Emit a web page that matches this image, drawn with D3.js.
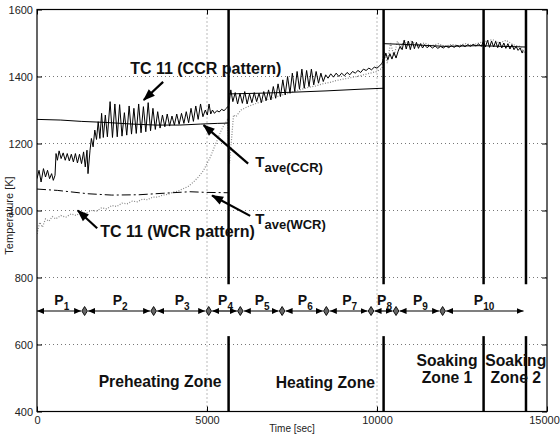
<!DOCTYPE html>
<html>
<head>
<meta charset="utf-8">
<script src="https://cdn.jsdelivr.net/npm/d3@7"></script>
<style>
  body { margin: 0; background: #fff; }
  text { font-family: "Liberation Sans", Arial, sans-serif; }
</style>
</head>
<body>
<div id="chart"></div>
<script>
// ---- data: [time (s), temperature (K)] ----
const tc11CCR = [
  [0,1095],[60,1120],[120,1085],[190,1125],[250,1100],[310,1120],[370,1095],[430,1110],[480,1090],[530,1105],
  [560,1170],[600,1150],[650,1178],[710,1155],[770,1172],[830,1150],[890,1170],[950,1148],[1010,1168],[1070,1145],
  [1130,1170],[1190,1142],[1250,1168],[1310,1140],[1370,1175],[1420,1130],[1470,1180],[1500,1110],[1560,1180],
  [1600,1215],[1650,1190],[1700,1240],[1750,1212],[1800,1265],[1850,1215],[1900,1290],[1950,1218],[2010,1285],
  [2070,1220],[2150,1325],[2220,1218],[2290,1318],[2360,1220],[2430,1316],[2500,1222],[2570,1292],[2640,1225],
  [2710,1312],[2780,1228],[2850,1305],[2920,1230],[2990,1318],[3060,1232],[3130,1310],[3200,1235],[3270,1322],
  [3340,1238],[3410,1305],[3480,1242],[3550,1295],[3620,1246],[3690,1285],[3760,1250],[3830,1288],[3900,1252],
  [3970,1282],[4040,1255],[4110,1288],[4180,1257],[4250,1290],[4320,1260],[4390,1295],[4460,1262],[4530,1305],
  [4600,1266],[4670,1312],[4740,1272],[4810,1318],[4880,1280],[4950,1300],[5010,1285],[5060,1318],[5110,1288],
  [5160,1300],[5220,1290],[5290,1298],[5360,1294],[5430,1302],[5500,1298],[5580,1306],[5630,1312],
  [5650,1320],[5700,1360],[5760,1325],[5830,1352],[5900,1318],[5970,1350],[6040,1320],[6110,1355],[6180,1318],
  [6250,1348],[6320,1322],[6390,1352],[6460,1325],[6530,1350],[6600,1322],[6670,1355],[6740,1328],[6810,1360],
  [6880,1330],[6950,1370],[7020,1335],[7090,1378],[7160,1340],[7230,1390],[7300,1345],[7370,1400],[7440,1350],
  [7510,1410],[7580,1355],[7650,1415],[7720,1362],[7790,1422],[7860,1365],[7930,1418],[8000,1370],[8070,1422],
  [8140,1375],[8210,1415],[8280,1380],[8350,1410],[8420,1385],[8490,1405],[8560,1395],[8640,1408],[8720,1398],
  [8800,1410],[8880,1400],[8960,1410],[9040,1402],[9120,1412],[9200,1405],[9280,1415],[9360,1410],[9440,1418],
  [9520,1412],[9600,1422],[9680,1418],[9760,1425],[9840,1420],[9920,1428],[10000,1425],[10080,1432],[10150,1440],
  [10190,1452],[10220,1455],[10260,1470],[10320,1450],[10380,1468],[10440,1452],[10500,1472],[10560,1455],
  [10620,1475],[10680,1490],[10740,1480],[10800,1508],[10860,1482],[10920,1506],[10980,1480],[11040,1505],
  [11100,1483],[11160,1502],[11220,1484],[11280,1498],[11340,1485],[11400,1495],[11470,1486],[11550,1492],
  [11630,1485],[11710,1491],[11790,1484],[11870,1490],[11950,1485],[12030,1491],[12110,1486],[12190,1492],
  [12270,1487],[12350,1493],[12430,1488],[12510,1494],[12590,1489],[12670,1495],[12750,1490],[12830,1496],
  [12910,1491],[12990,1497],[13070,1490],[13130,1505],[13190,1488],[13250,1508],[13310,1487],[13370,1506],
  [13430,1488],[13490,1505],[13550,1486],[13610,1503],[13670,1485],[13730,1500],[13790,1484],[13850,1498],
  [13910,1482],[13970,1495],[14030,1480],[14090,1490],[14150,1478],[14210,1485],[14270,1470],[14300,1478]
];

const tc11WCR = [
  [0,930],[80,965],[160,950],[250,975],[350,968],[450,982],[550,975],[700,985],[850,980],[1000,990],
  [1150,985],[1300,995],[1450,992],[1600,1000],[1750,998],[1900,1008],[2050,1005],[2200,1015],[2350,1012],
  [2500,1022],[2650,1020],[2800,1028],[2950,1026],[3100,1034],[3250,1032],[3400,1040],[3550,1040],[3700,1046],
  [3850,1048],[4000,1055],[4150,1058],[4300,1065],[4450,1072],[4600,1085],[4750,1100],[4900,1120],[5000,1140],
  [5100,1160],[5200,1185],[5300,1210],[5400,1235],[5500,1255],[5600,1270],[5660,1140],[5720,1210],[5780,1285],
  [5850,1280],[6000,1300],[6200,1310],[6400,1318],[6600,1325],[6800,1332],[7000,1338],[7200,1345],[7400,1350],
  [7600,1357],[7800,1362],[8000,1368],[8200,1372],[8400,1378],[8600,1382],[8800,1388],[9000,1392],[9200,1396],
  [9400,1400],[9600,1405],[9800,1410],[10000,1415],[10150,1425],[10200,1480],[10300,1440],[10400,1500],
  [10500,1460],[10600,1505],[10700,1485],[10800,1510],[10900,1490],[11000,1505],[11200,1495],[11400,1500],
  [11600,1492],[11800,1498],[12000,1490],[12200,1496],[12400,1492],[12600,1498],[12800,1494],[13000,1500],
  [13200,1505],[13400,1510],[13600,1500],[13800,1508],[14000,1495],[14200,1490],[14350,1470]
];

const taveCCR = [
  [[0,1272],[700,1270],[1300,1266],[2000,1263],[2800,1258],[3500,1255],[4200,1255],[4800,1258],[5300,1260],[5630,1261]],
  [[5640,1348],[6500,1350],[7500,1353],[8500,1357],[9500,1362],[10190,1365]],
  [[10200,1498],[11000,1495],[12000,1490],[13000,1492],[14380,1488]]
];

const taveWCR = [[0,1064],[600,1060],[1500,1050],[2200,1046],[3000,1047],[3800,1052],[4500,1056],[5000,1054],[5630,1053]];

const zoneLines = [5635, 10194, 13135, 14382];
const zoneLineSpans = [[780, 1600], [400, 625]];

const phaseBounds = [0, 1400, 3430, 5050, 5980, 7210, 8510, 9825, 10560, 11930, 14310];
const phaseNames = ["1","2","3","4","5","6","7","8","9","10"];
const phaseLevel = 700;

const zoneLabels = [
  { lines: ["Preheating Zone"], t: 3620, T: 473 },
  { lines: ["Heating Zone"], t: 8480, T: 470 },
  { lines: ["Soaking", "Zone 1"], t: 12060, T: 494 },
  { lines: ["Soaking", "Zone 2"], t: 14080, T: 494 }
];

// annotation text + arrows (tail -> head), in data coordinates
const notes = [
  { main: "TC 11 (CCR pattern)", sub: "", t: 2740, T: 1406 },
  { main: "TC 11 (WCR pattern)", sub: "", t: 1860, T: 920 },
  { main: "T", sub: "ave(CCR)", t: 6420, T: 1130 },
  { main: "T", sub: "ave(WCR)", t: 6420, T: 959 }
];
const noteArrows = [
  [[3710, 1384], [3140, 1330]],
  [[6210, 1140], [4900, 1255]],
  [[6270, 984], [5150, 1045]],
  [[1770, 947], [1200, 1000]]
];

const yTicks = [400, 600, 800, 1000, 1200, 1400, 1600];
const xTicks = [0, 5000, 10000, 15000];

// ---- layout ----
const margin = { top: 9.5, left: 37 };
const width = 510, height = 402;

const svg = d3.select("#chart").append("svg")
  .attr("width", 560).attr("height", 436);

const defs = svg.append("defs");
defs.append("marker").attr("id", "tri")
  .attr("viewBox", "0 -4 8 8").attr("refX", 8).attr("refY", 0)
  .attr("markerWidth", 7).attr("markerHeight", 7)
  .attr("markerUnits", "userSpaceOnUse").attr("orient", "auto-start-reverse")
  .append("path").attr("d", "M0,-3.5L8,0L0,3.5Z").attr("fill", "#000");
defs.append("marker").attr("id", "bigArrow")
  .attr("viewBox", "0 -5 12 10").attr("refX", 11).attr("refY", 0)
  .attr("markerWidth", 13).attr("markerHeight", 10)
  .attr("markerUnits", "userSpaceOnUse").attr("orient", "auto")
  .append("path").attr("d", "M0,-4.5L12,0L0,4.5Z").attr("fill", "#000");
defs.append("clipPath").attr("id", "plotClip")
  .append("rect").attr("width", width).attr("height", height);

const g = svg.append("g").attr("transform", `translate(${margin.left},${margin.top})`);

const x = d3.scaleLinear().domain([0, 15000]).range([0, width]);
const y = d3.scaleLinear().domain([400, 1600]).range([height, 0]);

// grid
g.selectAll("line.gy").data(yTicks.slice(1, -1)).enter().append("line")
  .attr("x1", 0).attr("x2", width).attr("y1", d => y(d)).attr("y2", d => y(d))
  .attr("stroke", "#777").attr("stroke-width", 1).attr("stroke-dasharray", "1,3");
g.selectAll("line.gx").data(xTicks.slice(1, -1)).enter().append("line")
  .attr("y1", 0).attr("y2", height).attr("x1", d => x(d)).attr("x2", d => x(d))
  .attr("stroke", "#777").attr("stroke-width", 1).attr("stroke-dasharray", "1,3");

// axes (ticks pointing inwards)
const axL = g.append("g").call(d3.axisLeft(y).tickValues(yTicks).tickFormat(d3.format("d"))
  .tickSizeInner(-5).tickSizeOuter(0).tickPadding(4));
const axB = g.append("g").attr("transform", `translate(0,${height})`)
  .call(d3.axisBottom(x).tickValues(xTicks).tickFormat(d3.format("d"))
  .tickSizeInner(-5).tickSizeOuter(0).tickPadding(5));
const axR = g.append("g").attr("transform", `translate(${width},0)`)
  .call(d3.axisRight(y).tickValues(yTicks).tickSizeInner(-5).tickSizeOuter(0).tickFormat(""));
const axT = g.append("g")
  .call(d3.axisTop(x).tickValues(xTicks).tickSizeInner(-5).tickSizeOuter(0).tickFormat(""));
[axL, axB, axR, axT].forEach(a => {
  a.select(".domain").remove();
  a.selectAll("text").attr("font-size", 11).attr("fill", "#222")
    .style("font-family", "'Liberation Sans', Arial, sans-serif");
});
// last x label sits at the window edge; nudge it in so it stays readable
axB.selectAll(".tick text").filter(d => d === 15000).attr("dx", -3);

// curves
const line = d3.line().x(d => x(d[0])).y(d => y(d[1]));
const plot = g.append("g").attr("clip-path", "url(#plotClip)");

plot.append("path").datum(tc11WCR).attr("d", line)
  .attr("fill", "none").attr("stroke", "#888").attr("stroke-width", 1.2)
  .attr("stroke-dasharray", "1,1.6");
plot.append("path").datum(taveWCR).attr("d", line)
  .attr("fill", "none").attr("stroke", "#000").attr("stroke-width", 1)
  .attr("stroke-dasharray", "9,3,2,3");
taveCCR.forEach(seg => {
  plot.append("path").datum(seg).attr("d", line)
    .attr("fill", "none").attr("stroke", "#000").attr("stroke-width", 1);
});
plot.append("path").datum(tc11CCR).attr("d", line)
  .attr("fill", "none").attr("stroke", "#000").attr("stroke-width", 1);

// zone boundary lines
zoneLines.forEach(t => {
  zoneLineSpans.forEach(s => {
    g.append("line").attr("x1", x(t)).attr("x2", x(t))
      .attr("y1", y(s[0])).attr("y2", y(s[1]))
      .attr("stroke", "#000").attr("stroke-width", 2.5);
  });
});

// phase arrows P1..P10
const last = phaseNames.length - 1;
phaseNames.forEach((name, i) => {
  const a = phaseBounds[i], b = phaseBounds[i + 1];
  g.append("line")
    .attr("x1", x(a) + (i > 0 ? 3.5 : 0)).attr("x2", x(b) - (i < last ? 3.5 : 0))
    .attr("y1", y(phaseLevel)).attr("y2", y(phaseLevel))
    .attr("stroke", "#000").attr("stroke-width", 1.2)
    .attr("marker-start", "url(#tri)").attr("marker-end", "url(#tri)");
  const lbl = g.append("text")
    .attr("x", x((a + b) / 2) + 1).attr("y", y(phaseLevel) - 6)
    .attr("text-anchor", "middle").attr("font-weight", "bold").attr("fill", "#111");
  lbl.append("tspan").attr("font-size", 14).text("P");
  lbl.append("tspan").attr("font-size", 10).attr("dy", 5).text(name);
});
g.selectAll("path.dia").data(phaseBounds.slice(1, -1)).enter().append("path")
  .attr("transform", d => `translate(${x(d)},${y(phaseLevel)})`)
  .attr("d", "M0,-4.5L2.8,0L0,4.5L-2.8,0Z")
  .attr("fill", "#666").attr("stroke", "#000").attr("stroke-width", 0.9);

// zone labels
zoneLabels.forEach(z => {
  const t = g.append("text").attr("text-anchor", "middle")
    .attr("font-size", 15.7).attr("font-weight", "bold").attr("fill", "#111");
  z.lines.forEach((s, k) => {
    t.append("tspan").attr("x", x(z.t))
      .attr("y", y(z.T) - (z.lines.length - 1 - k) * 17 + (z.lines.length > 1 ? 3 : 0))
      .text(s);
  });
});

// annotations
noteArrows.forEach(a => {
  g.append("line").attr("x1", x(a[0][0])).attr("y1", y(a[0][1]))
    .attr("x2", x(a[1][0])).attr("y2", y(a[1][1]))
    .attr("stroke", "#000").attr("stroke-width", 2.2)
    .attr("marker-end", "url(#bigArrow)");
});
notes.forEach(n => {
  const t = g.append("text").attr("x", x(n.t)).attr("y", y(n.T))
    .attr("font-weight", "bold").attr("fill", "#111");
  t.append("tspan").attr("font-size", n.sub ? 15 : 16).text(n.main);
  if (n.sub) t.append("tspan").attr("font-size", 13).attr("dy", 5).text(n.sub);
});

// frame
g.append("rect").attr("width", width).attr("height", height)
  .attr("fill", "none").attr("stroke", "#000").attr("stroke-width", 1.2);

// axis titles
svg.append("text").attr("x", margin.left + x(7500)).attr("y", 432)
  .attr("text-anchor", "middle").attr("font-size", 10).attr("fill", "#222").text("Time [sec]");
svg.append("text").attr("transform", `translate(13,${margin.top + y(1000) + 5}) rotate(-90)`)
  .attr("text-anchor", "middle").attr("font-size", 11).attr("fill", "#222").text("Temperature [K]");
</script>
</body>
</html>
